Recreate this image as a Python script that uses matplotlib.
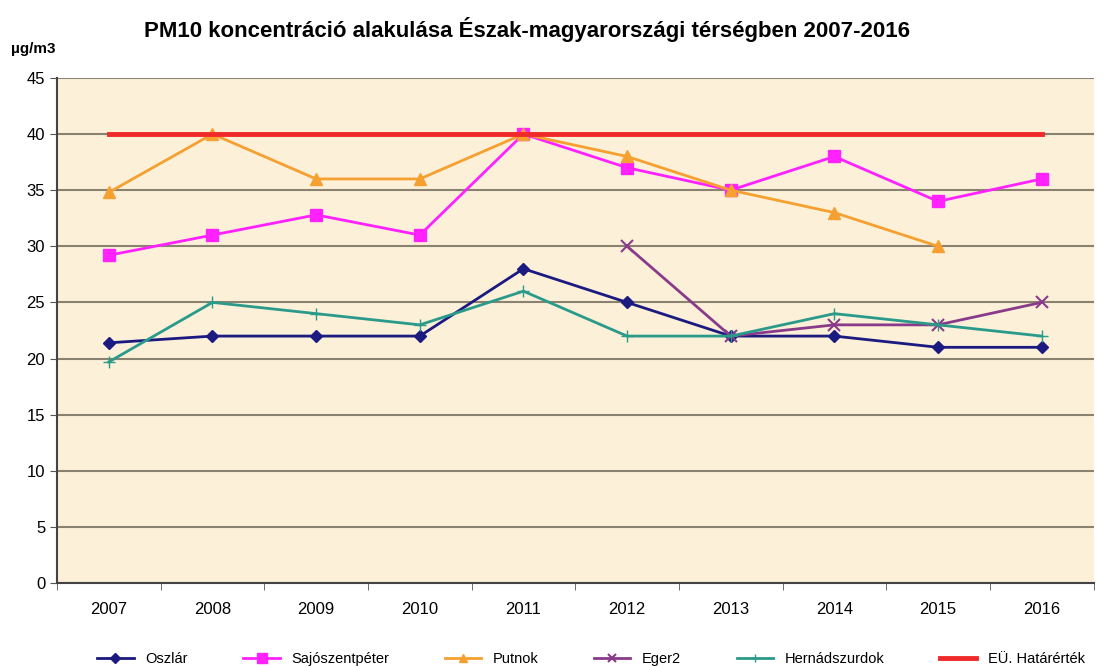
import numpy as np
import matplotlib
matplotlib.use("Agg")
import matplotlib.pyplot as plt

plt.rcParams['font.family'] = ['Liberation Sans', 'DejaVu Sans']

years = ['2007', '2008', '2009', '2010', '2011', '2012', '2013', '2014', '2015', '2016']
nan = np.nan
oszlar = [21.4, 22, 22, 22, 28, 25, 22, 22, 21, 21]
sajoszentpeter = [29.2, 31, 32.8, 31, 40, 37, 35, 38, 34, 36]
putnok = [34.8, 40, 36, 36, 40, 38, 35, 33, 30, nan]
eger2 = [nan, nan, nan, nan, nan, 30, 22, 23, 23, 25]
hernadszurdok = [19.7, 25, 24, 23, 26, 22, 22, 24, 23, 22]
hatarertek = [40] * 10

fig = plt.figure(figsize=(11.05, 6.66), dpi=100)
ax = fig.add_axes([0.0516, 0.1246, 0.938, 0.7584])
ax.set_facecolor('#fcf0d8')

x = np.arange(len(years))
ax.plot(x, oszlar, color='#1a1a80', marker='D', markersize=6, lw=2, label='Oszlár')
ax.plot(x, sajoszentpeter, color='#ff22ff', marker='s', markersize=9, lw=2, label='Sajószentpéter')
ax.plot(x, putnok, color='#f5a030', marker='^', markersize=8, lw=2, label='Putnok')
ax.plot(x, eger2, color='#8a3a8a', marker='x', markersize=8, mew=1.5, lw=2, label='Eger2')
ax.plot(x, hernadszurdok, color='#2a9a8a', marker='+', markersize=8, lw=2, label='Hernádszurdok')
ax.plot(x, hatarertek, color='#f02a2a', lw=3.5, label='EÜ. Határérték')

ax.set_xlim(-0.5, len(years) - 0.5)
ax.set_ylim(0, 45)
ax.set_yticks(np.arange(0, 46, 5))
ax.yaxis.grid(True, color='#8a8270', lw=1.5)
ax.set_axisbelow(True)
ax.set_xticks(x)
ax.set_xticklabels(years)
ax.tick_params(axis='x', length=0, pad=14, labelsize=12)
ax.set_xticks(np.arange(-0.5, len(years)), minor=True)
ax.tick_params(axis='x', which='minor', length=5, color='#555555')
ax.tick_params(axis='y', length=5, labelsize=12, color='#555555')
for s in ['top', 'right']:
    ax.spines[s].set_visible(False)
for s in ['left', 'bottom']:
    ax.spines[s].set_color('#444444')
    ax.spines[s].set_linewidth(1.5)

fig.text(0.477, 0.955, 'PM10 koncentráció alakulása Észak-magyarországi térségben 2007-2016',
         ha='center', va='center', fontsize=16, fontweight='bold')
fig.text(0.01, 0.927, 'µg/m3', ha='left', va='center', fontsize=11, fontweight='bold')

fig.legend(loc='lower center', ncol=6, bbox_to_anchor=(0.535, -0.02), frameon=False,
           fontsize=10.5, columnspacing=3.8, handlelength=2.5, markerscale=0.8)

fig.savefig('out.png', dpi=100)
